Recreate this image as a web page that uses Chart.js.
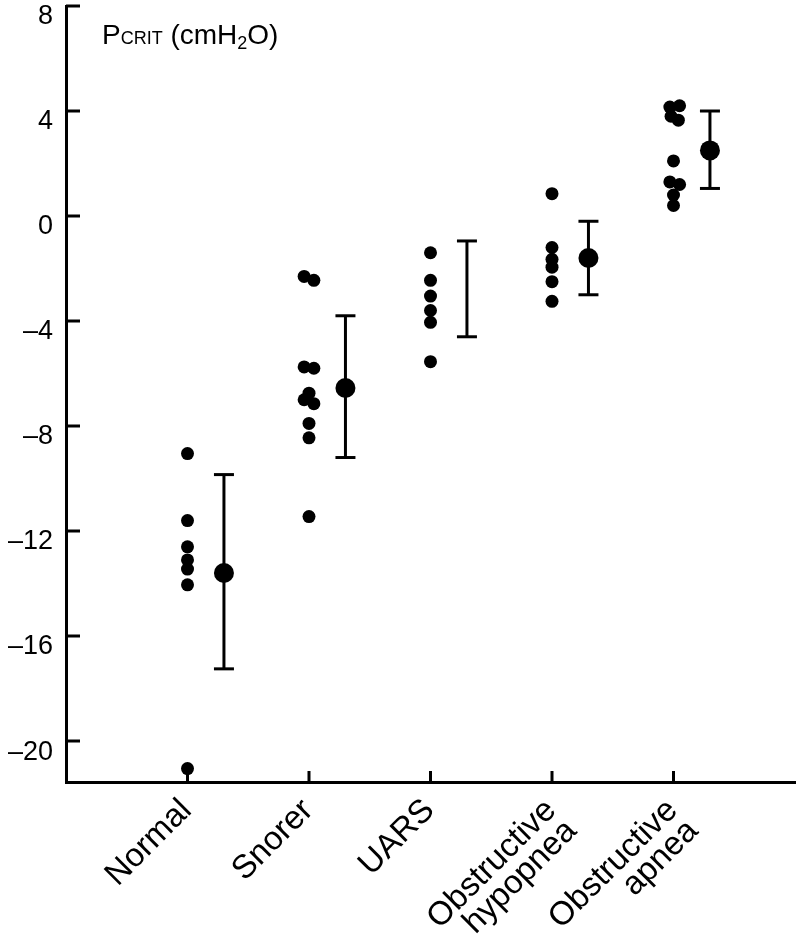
<!DOCTYPE html>
<html>
<head>
<meta charset="utf-8">
<script src="https://cdn.jsdelivr.net/npm/chart.js@4.4.1/dist/chart.umd.min.js"></script>
<style>
  html, body { margin: 0; padding: 0; background: #fff; }
  #wrap { width: 799px; height: 936px; }
</style>
</head>
<body>
<div id="wrap"><canvas id="pcritChart"></canvas></div>
<script>
// Groups along the x axis
const categories = ['Normal', 'Snorer', 'UARS', ['Obstructive', 'hypopnea'], ['Obstructive', 'apnea']];

// Individual PCRIT values (cmH2O)
const normalValues   = [-9.05, -11.6, -12.6, -13.1, -13.45, -14.05, -21.05];
const snorerValues   = [-2.3, -2.45, -5.75, -5.8, -6.75, -7.0, -7.15, -7.9, -8.45, -11.45];
const uarsValues     = [-1.4, -2.45, -3.05, -3.6, -4.05, -5.55];
const hypopneaValues = [0.85, -1.2, -1.65, -1.95, -2.5, -3.25];
const apneaValues    = [4.15, 4.2, 3.8, 3.65, 2.1, 1.3, 1.2, 0.8, 0.4];

// small horizontal scatter of overlapping dots (in category units)
const snorerJitter = [-0.04, 0.04, -0.04, 0.04, 0, -0.04, 0.04, 0, 0, 0];
const apneaJitter  = [-0.03, 0.05, -0.02, 0.04, 0, -0.03, 0.05, 0, 0];

// Group mean and error bar limits (UARS has no mean marker)
const groupMeans = [-13.6, -6.55, null, -1.6, 2.5];
const errorLow   = [-17.25, -9.2, -4.6, -3.0, 1.05];
const errorHigh  = [-9.85, -3.8, -0.95, -0.2, 4.0];

const yTicks = [8, 4, 0, -4, -8, -12, -16, -20];
const meanOffset = 0.3;

const FONT = 'Arial, "Liberation Sans", Helvetica, sans-serif';

function dots(values, pos, jitter) {
    return values.map((v, i) => ({ x: pos + (jitter ? jitter[i] : 0), y: v }));
}

const groupValues = [normalValues, snorerValues, uarsValues, hypopneaValues, apneaValues];
const groupJitter = [null, snorerJitter, null, null, apneaJitter];

const datasets = [];

// error bars as two-point lines with flat caps
categories.forEach((c, i) => {
    datasets.push({
        type: 'line',
        data: [{ x: i + 1 + meanOffset, y: errorLow[i] }, { x: i + 1 + meanOffset, y: errorHigh[i] }],
        borderColor: '#000',
        borderWidth: 3,
        pointStyle: 'line',
        pointRadius: 10,
        pointBorderWidth: 3,
        pointBorderColor: '#000',
        showLine: true
    });
});

// individual subjects
groupValues.forEach((vals, i) => {
    datasets.push({
        data: dots(vals, i + 1, groupJitter[i]),
        backgroundColor: '#000',
        borderColor: '#000',
        pointRadius: 6.5,
        borderWidth: 0
    });
});

// means
datasets.push({
    data: groupMeans.map((m, i) => ({ x: i + 1 + meanOffset, y: m })),
    backgroundColor: '#000',
    borderColor: '#000',
    pointRadius: 10,
    borderWidth: 0
});

// inward tick marks and the axis title
const decorPlugin = {
    id: 'decor',
    afterDraw(chart) {
        const ctx = chart.ctx;
        const area = chart.chartArea;
        const xs = chart.scales.x, ys = chart.scales.y;
        ctx.save();
        ctx.strokeStyle = '#000';
        ctx.lineWidth = 3;
        ctx.beginPath();
        yTicks.forEach(t => {
            const py = ys.getPixelForValue(t);
            ctx.moveTo(area.left, py);
            ctx.lineTo(area.left + 14, py);
        });
        categories.forEach((c, i) => {
            const px = xs.getPixelForValue(i + 1);
            ctx.moveTo(px, area.bottom);
            ctx.lineTo(px, area.bottom - 11);
        });
        ctx.stroke();

        // PCRIT (cmH2O)
        ctx.fillStyle = '#000';
        ctx.textBaseline = 'alphabetic';
        ctx.textAlign = 'left';
        let x = area.left + 36;
        const base = area.top + 38;
        const big = '28px ' + FONT, small = '18px ' + FONT;
        const parts = [
            ['P', big, 0], ['CRIT', small, 0], [' (cmH', big, 0], ['2', small, 5], ['O)', big, 0]
        ];
        parts.forEach(p => {
            ctx.font = p[1];
            ctx.fillText(p[0], x, base + p[2]);
            x += ctx.measureText(p[0]).width;
        });
        ctx.restore();
    }
};

new Chart(document.getElementById('pcritChart'), {
    type: 'scatter',
    data: { datasets },
    options: {
        responsive: true,
        maintainAspectRatio: false,
        animation: false,
        layout: { autoPadding: false, padding: { top: 6, right: 4, left: 0, bottom: 0 } },
        plugins: { legend: { display: false }, tooltip: { enabled: false } },
        scales: {
            x: {
                type: 'linear',
                min: 0,
                max: 6,
                afterBuildTicks(scale) {
                    scale.ticks = categories.map((c, i) => ({ value: i + 1 }));
                },
                afterFit(scale) {
                    scale.height = 154;
                    scale.paddingLeft = 0;
                    scale.paddingRight = 0;
                },
                grid: { display: true, drawOnChartArea: false, drawTicks: false },
                border: { display: true, color: '#000', width: 3 },
                ticks: {
                    autoSkip: false,
                    minRotation: 45,
                    maxRotation: 45,
                    padding: 13,
                    labelOffset: -1,
                    color: '#000',
                    font: { family: FONT, size: 33, lineHeight: 0.88 },
                    callback: (v) => categories[v - 1]
                }
            },
            y: {
                min: -21.56,
                max: 8,
                afterBuildTicks(scale) {
                    scale.ticks = yTicks.map(v => ({ value: v }));
                },
                afterFit(scale) {
                    scale.width = 66;
                    scale.paddingTop = 0;
                    scale.paddingBottom = 0;
                },
                grid: { display: true, drawOnChartArea: false, drawTicks: false },
                border: { display: true, color: '#000', width: 3 },
                ticks: {
                    padding: 13,
                    labelOffset: 11,
                    color: '#000',
                    font: { family: FONT, size: 27 },
                    callback: (v) => (v < 0 ? '\u2013' + Math.abs(v) : String(v))
                }
            }
        }
    },
    plugins: [decorPlugin]
});
</script>
</body>
</html>
